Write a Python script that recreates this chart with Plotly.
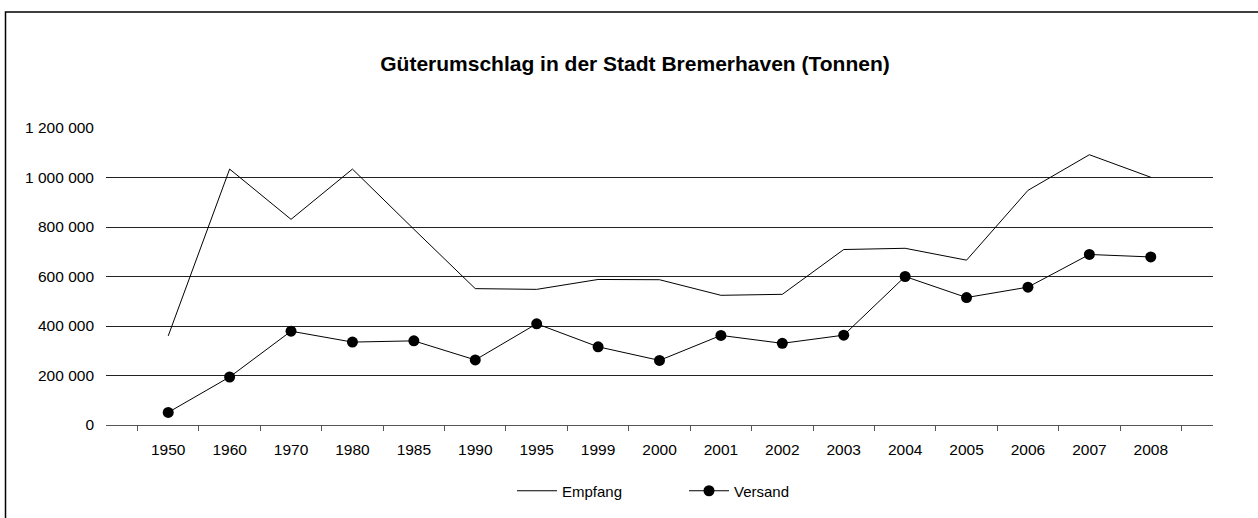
import plotly.graph_objects as go

years = ["1950", "1960", "1970", "1980", "1985", "1990", "1995", "1999", "2000",
         "2001", "2002", "2003", "2004", "2005", "2006", "2007", "2008"]
empfang = [360000, 1034000, 831000, 1034000, 791000, 551000, 548000, 588000, 587000,
           524000, 528000, 709000, 714000, 666000, 948000, 1092000, 1001000]
versand = [51000, 194000, 379000, 335000, 340000, 263000, 409000, 316000, 261000,
           362000, 330000, 363000, 600000, 515000, 557000, 689000, 679000]
y_ticks = [0, 200000, 400000, 600000, 800000, 1000000, 1200000]
y_tick_labels = ["0", "200 000", "400 000", "600 000", "800 000", "1 000 000", "1 200 000"]

W, H = 1258, 518
L, R, T, B = 106, W - 1213, 128, H - 425
pw, ph = W - L - R, H - T - B

font = "Liberation Sans, Arial, sans-serif"

fig = go.Figure()
fig.add_trace(go.Scatter(x=years, y=empfang, name="Empfang", mode="lines",
                         line=dict(color="black", width=1)))
fig.add_trace(go.Scatter(x=years, y=versand, name="Versand", mode="lines+markers",
                         line=dict(color="black", width=1),
                         marker=dict(color="black", size=11)))

fig.update_layout(
    width=W, height=H,
    margin=dict(l=L, r=R, t=T, b=B, autoexpand=False),
    paper_bgcolor="white", plot_bgcolor="white",
    font=dict(family=font, size=15.5, color="black"),
    title=dict(text="<b>Güterumschlag in der Stadt Bremerhaven (Tonnen)</b>",
               x=635 / W, xanchor="center", xref="container",
               y=1 - 64 / H, yanchor="middle",
               font=dict(family=font, size=21, color="black")),
    showlegend=True,
    legend=dict(orientation="h", x=(512 - L) / pw, xanchor="left", xref="paper",
                y=(425 - 491) / ph, yanchor="middle", yref="paper",
                font=dict(family=font, size=15), itemwidth=40,
                traceorder="normal", entrywidth=117),
    xaxis=dict(type="category", showgrid=False, showline=True, linecolor="#555",
               linewidth=1, ticks="outside", tickson="boundaries", ticklen=5,
               tickcolor="#555", tickfont=dict(size=15.5), ticklabelstandoff=10,
               fixedrange=True),
    yaxis=dict(range=[0, 1200000], tickvals=y_ticks, ticktext=y_tick_labels,
               showgrid=True, gridcolor="#222", gridwidth=1, zeroline=False,
               showline=False, ticks="", tickfont=dict(size=15.5),
               ticklabelstandoff=11, fixedrange=True),
    shapes=[dict(type="rect", xref="paper", yref="paper",
                 x0=(5.5 - L) / pw, x1=(W + 20 - L) / pw,
                 y0=(425 - (H + 20)) / ph, y1=(425 - 12) / ph,
                 line=dict(color="black", width=1.5), fillcolor="rgba(0,0,0,0)",
                 layer="below")],
)

fig.write_html("out.html", config={"displayModeBar": False},
               post_script="document.body.style.margin='0';document.body.style.overflow='hidden';")
